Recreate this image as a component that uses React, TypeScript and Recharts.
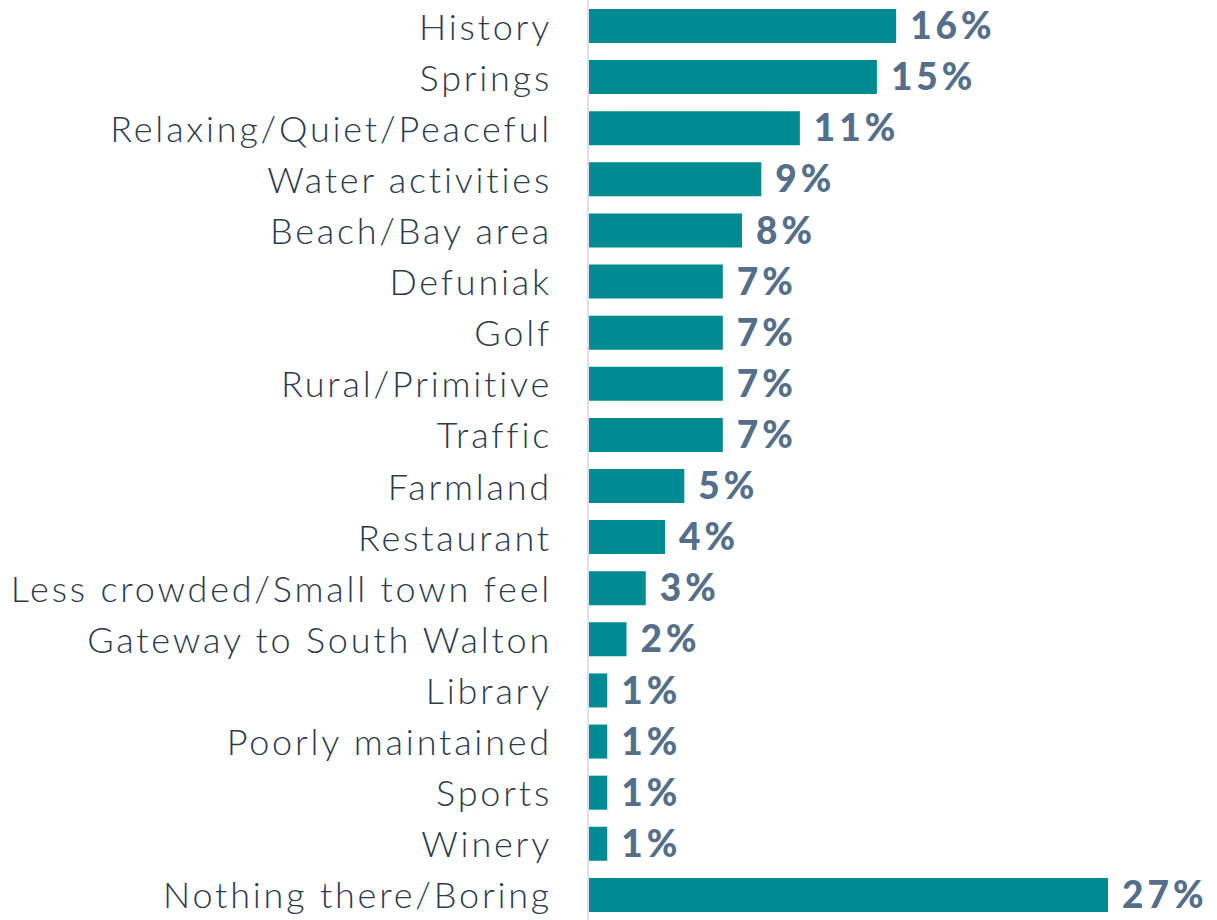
import React from "react";
import { Bar, BarChart, LabelList, XAxis, YAxis } from "recharts";

const categories = [
  "History",
  "Springs",
  "Relaxing/Quiet/Peaceful",
  "Water activities",
  "Beach/Bay area",
  "Defuniak",
  "Golf",
  "Rural/Primitive",
  "Traffic",
  "Farmland",
  "Restaurant",
  "Less crowded/Small town feel",
  "Gateway to South Walton",
  "Library",
  "Poorly maintained",
  "Sports",
  "Winery",
  "Nothing there/Boring",
];

const shares = [16, 15, 11, 9, 8, 7, 7, 7, 7, 5, 4, 3, 2, 1, 1, 1, 1, 27];

const data = categories.map((name, i) => ({ name, value: shares[i] }));

const BAR_COLOR = "#008b93";
const LABEL_COLOR = "#2d3a4c";
const VALUE_COLOR = "#556e89";

const CategoryTick = (props: any) => {
  const { x, y, payload } = props;
  return (
    <text
      x={x}
      y={y}
      textAnchor="end"
      dominantBaseline="central"
      fill={LABEL_COLOR}
      fontFamily="Lato, sans-serif"
      fontSize={36}
      fontWeight={300}
      letterSpacing={2.8}
    >
      {payload.value}
    </text>
  );
};

export default function App() {
  return (
    <div style={{ position: "absolute", left: 0, top: 0 }}>
      <BarChart
        width={1217}
        height={920}
        data={data}
        layout="vertical"
        margin={{ top: 0, right: 109, bottom: 0, left: 0 }}
        barSize={34}
      >
        <XAxis type="number" domain={[0, 27]} hide />
        <YAxis
          type="category"
          dataKey="name"
          width={588}
          axisLine={{ stroke: "#dde1e6", strokeWidth: 2 }}
          tickLine={false}
          tickMargin={30}
          tick={<CategoryTick />}
          interval={0}
        />
        <Bar dataKey="value" fill={BAR_COLOR} isAnimationActive={false}>
          <LabelList
            dataKey="value"
            position="right"
            offset={14}
            formatter={(v: any) => `${v}%`}
            fill={VALUE_COLOR}
            fontFamily="Lato, sans-serif"
            fontSize={37}
            fontWeight={900}
            letterSpacing={4}
          />
        </Bar>
      </BarChart>
    </div>
  );
}
